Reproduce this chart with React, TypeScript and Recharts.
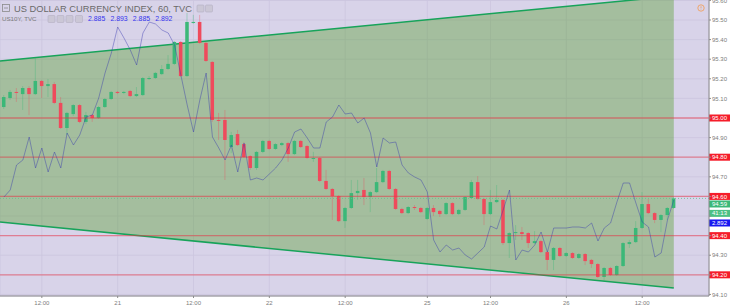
import React from 'react';
import { ComposedChart, Bar, Line, Area, XAxis, YAxis, CartesianGrid, ReferenceLine } from 'recharts';

// hourly candles, US Dollar Currency Index (TVC), one value per bar
const opens = [
  95.056, 95.102, 95.133, 95.122, 95.153, 95.122, 95.189, 95.163, 95.173, 95.077,
  94.949, 95.020, 95.066, 94.980, 95.015, 95.000, 95.056, 95.097, 95.133, 95.128,
  95.138, 95.112, 95.117, 95.199, 95.204, 95.224, 95.250, 95.276, 95.388, 95.214,
  95.485, 95.490, 95.383, 95.286, 94.990, 94.990, 94.852, 94.918, 94.867, 94.806,
  94.745, 94.827, 94.883, 94.842, 94.862, 94.872, 94.816, 94.883, 94.857, 94.791,
  94.796, 94.679, 94.638, 94.602, 94.474, 94.541, 94.617, 94.633, 94.597, 94.622,
  94.673, 94.730, 94.638, 94.536, 94.515, 94.546, 94.541, 94.485, 94.541, 94.526,
  94.510, 94.566, 94.510, 94.531, 94.592, 94.673, 94.587, 94.510, 94.571, 94.582,
  94.362, 94.413, 94.418, 94.413, 94.362, 94.372, 94.316, 94.276, 94.337, 94.296,
  94.311, 94.286, 94.306, 94.276, 94.255, 94.189, 94.235, 94.199, 94.245, 94.357,
  94.367, 94.439, 94.561, 94.515, 94.480, 94.505, 94.541,
];
const highs = [
  95.117, 95.143, 95.153, 95.163, 95.163, 95.306, 95.194, 95.199, 95.184, 95.107,
  95.031, 95.071, 95.071, 95.031, 95.020, 95.061, 95.102, 95.138, 95.138, 95.138,
  95.143, 95.158, 95.209, 95.214, 95.235, 95.270, 95.321, 95.393, 95.393, 95.536,
  95.526, 95.526, 95.388, 95.291, 95.026, 95.041, 94.929, 94.939, 94.878, 94.811,
  94.832, 94.888, 94.888, 94.872, 94.878, 94.878, 94.888, 94.888, 94.862, 94.827,
  94.801, 94.735, 94.643, 94.607, 94.546, 94.684, 94.684, 94.694, 94.628, 94.745,
  94.735, 94.735, 94.643, 94.541, 94.551, 94.556, 94.546, 94.546, 94.556, 94.531,
  94.571, 94.571, 94.536, 94.602, 94.684, 94.704, 94.592, 94.633, 94.658, 94.587,
  94.418, 94.454, 94.444, 94.418, 94.423, 94.378, 94.321, 94.342, 94.342, 94.316,
  94.316, 94.311, 94.311, 94.281, 94.260, 94.240, 94.240, 94.250, 94.367, 94.378,
  94.474, 94.622, 94.587, 94.520, 94.510, 94.546, 94.597,
];
const lows = [
  95.046, 95.092, 95.082, 95.041, 95.015, 95.117, 95.102, 95.107, 95.071, 94.944,
  94.913, 95.010, 94.974, 94.969, 94.980, 94.995, 95.051, 95.092, 95.122, 95.122,
  95.107, 95.107, 95.112, 95.194, 95.199, 95.219, 95.245, 95.270, 95.209, 95.209,
  95.480, 95.378, 95.286, 94.980, 94.888, 94.684, 94.821, 94.857, 94.796, 94.735,
  94.735, 94.821, 94.837, 94.837, 94.857, 94.776, 94.811, 94.847, 94.791, 94.776,
  94.673, 94.633, 94.480, 94.469, 94.439, 94.536, 94.582, 94.556, 94.520, 94.617,
  94.668, 94.633, 94.531, 94.510, 94.510, 94.531, 94.515, 94.480, 94.500, 94.495,
  94.505, 94.505, 94.505, 94.526, 94.587, 94.582, 94.454, 94.505, 94.566, 94.352,
  94.286, 94.378, 94.378, 94.337, 94.357, 94.311, 94.224, 94.224, 94.291, 94.291,
  94.281, 94.281, 94.250, 94.235, 94.184, 94.173, 94.194, 94.194, 94.240, 94.337,
  94.362, 94.434, 94.510, 94.464, 94.418, 94.480, 94.536,
];
const closes = [
  95.107, 95.133, 95.128, 95.153, 95.122, 95.189, 95.163, 95.173, 95.077, 94.949,
  95.026, 95.066, 94.980, 95.015, 95.000, 95.056, 95.097, 95.133, 95.128, 95.133,
  95.112, 95.122, 95.204, 95.204, 95.230, 95.250, 95.276, 95.388, 95.214, 95.490,
  95.490, 95.383, 95.291, 94.990, 94.985, 94.888, 94.913, 94.862, 94.801, 94.745,
  94.827, 94.883, 94.842, 94.867, 94.872, 94.816, 94.883, 94.852, 94.796, 94.796,
  94.679, 94.638, 94.602, 94.474, 94.541, 94.617, 94.628, 94.597, 94.622, 94.673,
  94.730, 94.638, 94.536, 94.515, 94.546, 94.541, 94.520, 94.541, 94.520, 94.510,
  94.566, 94.510, 94.531, 94.597, 94.673, 94.587, 94.510, 94.571, 94.582, 94.362,
  94.413, 94.418, 94.408, 94.362, 94.372, 94.316, 94.276, 94.337, 94.296, 94.311,
  94.286, 94.306, 94.270, 94.255, 94.189, 94.235, 94.199, 94.245, 94.362, 94.367,
  94.439, 94.561, 94.515, 94.480, 94.505, 94.541, 94.590,
];
// US10Y overlay (own scale)
const us10y = [
  2.8932, 2.896, 2.906, 2.908, 2.9172, 2.9048, 2.9128, 2.9032, 2.9112, 2.9048,
  2.9188, 2.914, 2.918, 2.9252, 2.926, 2.9328, 2.9428, 2.9508, 2.9612, 2.9568,
  2.952, 2.946, 2.9588, 2.9632, 2.9624, 2.96, 2.9588, 2.954, 2.942, 2.93,
  2.9192, 2.932, 2.9428, 2.9172, 2.9128, 2.908, 2.914, 2.9032, 2.9148, 2.9,
  2.9008, 2.9, 2.9024, 2.9048, 2.908, 2.9128, 2.9192, 2.9204, 2.9168, 2.9128,
  2.9128, 2.9232, 2.9252, 2.93, 2.9264, 2.9268, 2.9228, 2.9248, 2.9188, 2.9052,
  2.9168, 2.9148, 2.9152, 2.906, 2.9028, 2.9012, 2.9, 2.8952, 2.876, 2.8712,
  2.874, 2.872, 2.8728, 2.87, 2.8684, 2.8708, 2.8732, 2.8816, 2.8804, 2.888,
  2.896, 2.868, 2.872, 2.8712, 2.874, 2.8792, 2.8712, 2.8808, 2.8808, 2.8808,
  2.8812, 2.8812, 2.8808, 2.8828, 2.8756, 2.8808, 2.8828, 2.8912, 2.8988, 2.8988,
  2.8908, 2.8832, 2.8812, 2.8692, 2.8708, 2.884, 2.892,
];

const tickIdx = [6, 18, 30, 42, 54, 67, 77, 89, 101];
const tickLabels = ['12:00', '21', '12:00', '22', '12:00', '25', '12:00', '26', '12:00'];
const priceTicks = [94.1, 94.2, 94.3, 94.4, 94.5, 94.6, 94.7, 94.8, 94.9, 95.0, 95.1, 95.2, 95.3, 95.4, 95.5, 95.6];
const levels = [95.0, 94.8, 94.6, 94.4, 94.2];
const lastPrice = 94.59;
const lastYield = 2.892;
const countdown = '41:13';
const legendValues = ['2.885', '2.893', '2.885', '2.892'];

// drawn wedge (trend lines)
const wedgeX = [-0.62, 106];
const wedgeUpper = [95.291, 95.622];
const wedgeLower = [94.469, 94.133];

const data = closes.map((c, i) => ({
  i,
  o: opens[i],
  h: highs[i],
  l: lows[i],
  c,
  hl: [lows[i], highs[i]],
  y10: us10y[i],
}));
const wedgeData = wedgeX.map((i, k) => ({ i, band: [wedgeLower[k], wedgeUpper[k]] }));

const UP = '#3bb878';
const DOWN = '#ef4a5c';
const FONT = '"Liberation Sans", Arial, sans-serif';
const hiddenTicks = [95.0, 94.8, 94.6, 94.5, 94.4, 94.2];

const Candle = (props: any) => {
  const { x, y, width, height, payload } = props;
  if (!payload || x == null) return <g />;
  const { o, h, l, c } = payload;
  const top = Math.min(y, y + height);
  const span = Math.abs(height);
  const k = h === l ? 0 : span / (h - l);
  const py = (v: number) => top + (h - v) * k;
  const color = c >= o ? UP : DOWN;
  const bTop = py(Math.max(o, c));
  const bH = Math.max(1, py(Math.min(o, c)) - bTop);
  const cx = x + width / 2;
  return (
    <g>
      <line x1={cx} x2={cx} y1={top} y2={top + span} stroke={color} strokeOpacity={0.35} strokeWidth={1} />
      <rect x={x} y={bTop} width={width} height={bH} fill={color} />
    </g>
  );
};

const PriceTag = (props: any) => {
  const { viewBox, tags } = props;
  if (!viewBox) return <g />;
  const x0 = viewBox.x + viewBox.width;
  return (
    <g>
      {tags.map((t: any, k: number) => (
        <g key={k}>
          <rect x={x0} y={viewBox.y + t.dy - 3.5} width={21} height={7} fill={t.fill} />
          <text x={x0 + 10.5} y={viewBox.y + t.dy + 2.1} textAnchor="middle" fontSize={6} fill="#fff" fontFamily={FONT}>
            {t.text}
          </text>
        </g>
      ))}
    </g>
  );
};

const PriceTick = (props: any) => {
  const { x, y, payload } = props;
  if (hiddenTicks.some((v) => Math.abs(v - payload.value) < 1e-6)) return <g />;
  return (
    <text x={x} y={y + 2.1} fontSize={6} fill="#7c7c7c" fontFamily={FONT}>
      {payload.value.toFixed(2)}
    </text>
  );
};

const Legend = () => (
  <svg width={730} height={30} style={{ position: 'absolute', left: 0, top: 0, pointerEvents: 'none' }}>
    <rect x={2.5} y={4.5} width={7} height={7} fill="none" stroke="#8a8a8a" strokeWidth={0.8} />
    <line x1={4} x2={8} y1={8} y2={8} stroke="#8a8a8a" strokeWidth={0.8} />
    <text x={14} y={11.5} fontSize={9.3} fill="#6a6a6a" fontFamily={FONT}>
      US DOLLAR CURRENCY INDEX, 60, TVC
    </text>
    {[197, 205.5].map((x) => (
      <rect key={x} x={x} y={5} width={7} height={7} rx={1} fill="#cbc7d6" stroke="#b3aec2" strokeWidth={0.6} />
    ))}
    <text x={2} y={21} fontSize={6.2} fill="#7a7a7a" fontFamily={FONT}>
      US10Y, TVC
    </text>
    {[48, 57, 66, 75.5].map((x) => (
      <rect key={x} x={x} y={15.5} width={7} height={7} rx={1} fill="#cbc7d6" stroke="#b3aec2" strokeWidth={0.6} />
    ))}
    {legendValues.map((v, k) => (
      <text key={k} x={88 + k * 22.4} y={21} fontSize={6.9} fill="#3434ee" fontFamily={FONT}>
        {v}
      </text>
    ))}
    <circle cx={701} cy={8} r={3.2} fill="none" stroke="#f0a060" strokeWidth={0.9} />
    <line x1={701} x2={701} y1={6.3} y2={8.4} stroke="#f0a060" strokeWidth={0.8} />
    <circle cx={701} cy={9.6} r={0.4} fill="#f0a060" />
  </svg>
);

export default function App() {
  return (
    <div style={{ position: 'absolute', left: 0, top: 0, width: 730, height: 307, background: '#fff', fontFamily: FONT }}>
      <ComposedChart width={730} height={307} data={data} margin={{ top: 0, right: 0, bottom: 0, left: 0 }}>
        <CartesianGrid yAxisId="p" fill="#d8d3e9" stroke="#cbc5de" strokeWidth={0.8} />
        <XAxis
          type="number"
          dataKey="i"
          domain={[-0.62, 111.57]}
          allowDataOverflow
          ticks={tickIdx}
          interval={0}
          tickFormatter={(v: number) => tickLabels[tickIdx.indexOf(v)] ?? ''}
          height={11}
          tickSize={2}
          tickMargin={2.5}
          stroke="#8d8d8d"
          tick={{ fontSize: 6, fill: '#7c7c7c', fontFamily: FONT }}
        />
        <YAxis
          yAxisId="p"
          orientation="right"
          width={21}
          domain={[94.092, 95.602]}
          allowDataOverflow
          ticks={priceTicks}
          interval={0}
          tickSize={2}
          tickMargin={1}
          stroke="#8d8d8d"
          tick={<PriceTick />}
        />
        <YAxis yAxisId="y10" hide domain={[2.8536, 2.972]} allowDataOverflow />
        <Area
          yAxisId="p"
          data={wedgeData}
          dataKey="band"
          type="linear"
          fill="rgb(80,156,36)"
          fillOpacity={0.38}
          stroke="#17a35a"
          strokeWidth={1.5}
          isAnimationActive={false}
          dot={false}
          activeDot={false}
        />
        {levels.map((v) => (
          <ReferenceLine
            key={v}
            yAxisId="p"
            y={v}
            stroke="#ee3344"
            strokeOpacity={0.5}
            strokeWidth={1.3}
            label={<PriceTag tags={[{ dy: 0, text: v.toFixed(2), fill: '#f51d2a' }]} />}
          />
        ))}
        <ReferenceLine
          yAxisId="p"
          y={lastPrice}
          stroke="#5cc48a"
          strokeOpacity={0.8}
          strokeDasharray="1 2"
          label={
            <PriceTag
              tags={[
                { dy: 5.6, text: lastPrice.toFixed(2), fill: UP },
                { dy: 15, text: countdown, fill: '#4cc084' },
                { dy: 24.6, text: lastYield.toFixed(3), fill: '#1818f0' },
              ]}
            />
          }
        />
        <Bar yAxisId="p" dataKey="hl" barSize={5} shape={<Candle />} isAnimationActive={false} />
        <Line
          yAxisId="y10"
          dataKey="y10"
          type="linear"
          stroke="rgb(50,50,175)"
          strokeOpacity={0.42}
          strokeWidth={1}
          dot={false}
          activeDot={false}
          isAnimationActive={false}
        />
      </ComposedChart>
      <Legend />
    </div>
  );
}
